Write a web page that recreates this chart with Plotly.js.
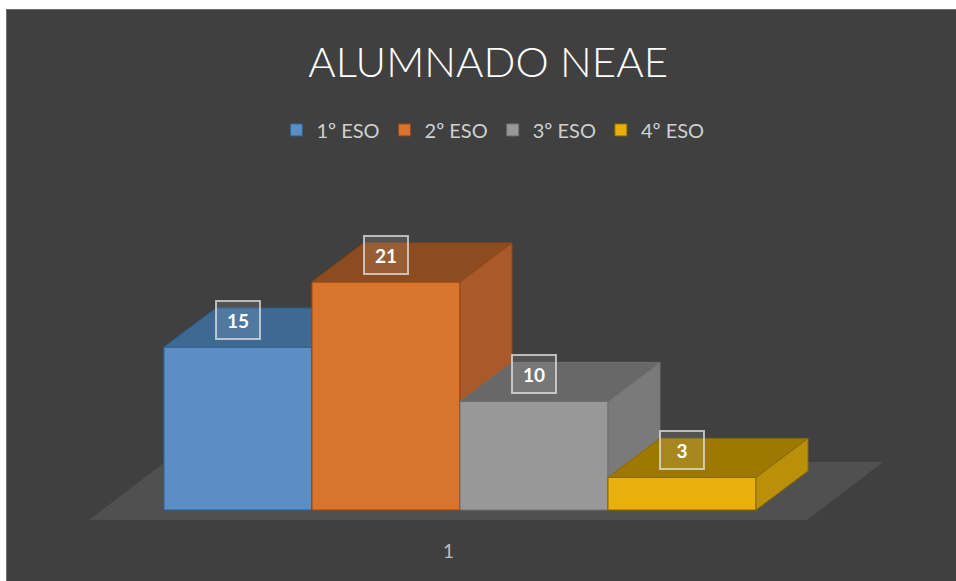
<!DOCTYPE html>
<html>
<head>
<meta charset="utf-8">
<script src="https://cdn.plot.ly/plotly-3.0.1.min.js"></script>
<style>
html,body{margin:0;padding:0;background:#ffffff;width:956px;height:581px;overflow:hidden;}
#frame{position:absolute;left:6px;top:9px;width:950px;height:572px;border-left:1px solid #6e6e6e;border-top:1px solid #6e6e6e;box-sizing:border-box;background:#404040;}
#chart{position:absolute;left:7px;top:10px;width:949px;height:571px;}
</style>
</head>
<body>
<div id="frame"></div>
<div id="chart"></div>
<script>
// ---- data ----
const chartTitle = 'ALUMNADO NEAE';
const categories = ['1º ESO', '2º ESO', '3º ESO', '4º ESO'];
const values = [15, 21, 10, 3];
const groupLabels = ['1'];

// ---- styles ----
const frontColors = ['#5b8ec5', '#d9742f', '#989898', '#e9b00d'];
const topColors   = ['#3e6993', '#8c4c20', '#686868', '#9d7902'];
const sideColors  = ['#4a7bb0', '#a9592a', '#7a7a7a', '#ba900a'];
const edgeColors  = ['#2f5f8f', '#954710', '#6e6e6e', '#8a6900'];

// ---- geometry (layout, not data) ----
const depthX = 52 / 148;      // in category units
const depthY = 39 / 10.86;    // in value units
const floorFront = -0.92, floorBack = 4.42;
const floorLeft = -0.507, floorRight = 4.345, floorShift = 76 / 148;

const traces = [];

// legend / base bars
categories.forEach((c, i) => {
  traces.push({
    type: 'bar', name: c, x: [i + 0.5], y: [values[i]], width: [1],
    marker: {color: frontColors[i], line: {color: edgeColors[i], width: 1}},
    hoverinfo: 'skip', showlegend: true
  });
});

// floor
traces.push({
  type: 'scatter', mode: 'lines', fill: 'toself', showlegend: false, hoverinfo: 'skip',
  x: [floorLeft, floorRight, floorRight + floorShift, floorLeft + floorShift, floorLeft],
  y: [floorFront, floorFront, floorBack, floorBack, floorFront],
  fillcolor: '#505050', line: {width: 0, color: 'rgba(0,0,0,0)'}
});

function poly(xs, ys, fill, edge) {
  traces.push({
    type: 'scatter', mode: 'lines', fill: 'toself', showlegend: false, hoverinfo: 'skip',
    x: xs, y: ys, fillcolor: fill, line: {color: edge, width: 1}
  });
}

categories.forEach((c, i) => {
  const v = values[i];
  const x0 = i, x1 = i + 1;
  // front
  poly([x0, x1, x1, x0, x0], [0, 0, v, v, 0], frontColors[i], edgeColors[i]);
  // top
  poly([x0, x1, x1 + depthX, x0 + depthX, x0], [v, v, v + depthY, v + depthY, v], topColors[i], edgeColors[i]);
  // right side
  poly([x1, x1 + depthX, x1 + depthX, x1, x1], [0, depthY, v + depthY, v, 0], sideColors[i], edgeColors[i]);
});

const annotations = categories.map((c, i) => ({
  x: i + 0.5, y: values[i], xref: 'x', yref: 'y',
  text: '<b>' + values[i] + '</b>', showarrow: false,
  yshift: 27, yanchor: 'middle', xanchor: 'center',
  font: {family: 'Lato, sans-serif', size: 19, color: '#ffffff'},
  width: 40, height: 34, borderpad: 1, borderwidth: 2,
  bordercolor: 'rgba(225,225,225,0.75)', bgcolor: 'rgba(255,255,255,0.10)'
}));

annotations.push({
  x: (floorLeft + floorRight) / 2, y: floorFront, xref: 'x', yref: 'y',
  text: groupLabels[0], showarrow: false, yshift: -31, yanchor: 'middle',
  font: {family: 'Lato, sans-serif', size: 19, color: '#bfbfbf'}
});

const layout = {
  width: 949, height: 571,
  margin: {l: 0, r: 0, t: 0, b: 0, pad: 0},
  paper_bgcolor: '#404040', plot_bgcolor: 'rgba(0,0,0,0)',
  barmode: 'overlay',
  title: {
    text: chartTitle, x: 0.507, xanchor: 'center', y: 0.909, yanchor: 'middle',
    font: {family: 'Lato, sans-serif', size: 42, weight: 300, color: '#ffffff'}
  },
  showlegend: true,
  legend: {
    orientation: 'h', x: 0.512, xanchor: 'center', y: 0.79, yanchor: 'middle',
    itemwidth: 30,
    font: {family: 'Lato, sans-serif', size: 20, color: '#d0d0d0'},
    bgcolor: 'rgba(0,0,0,0)', traceorder: 'normal', itemclick: false
  },
  xaxis: {range: [(7 - 164) / 148, (956 - 164) / 148], visible: false, fixedrange: true},
  yaxis: {range: [(510 - 581) / 10.86, (510 - 10) / 10.86], visible: false, fixedrange: true},
  annotations: annotations
};

Plotly.newPlot('chart', traces, layout, {staticPlot: true, displayModeBar: false});
</script>
</body>
</html>
